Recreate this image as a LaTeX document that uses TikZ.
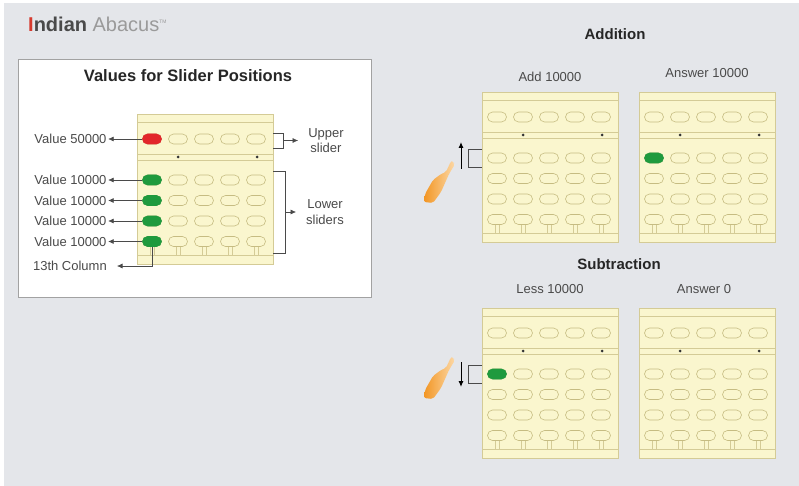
\documentclass[tikz,border=0pt]{standalone}
\usepackage{fontspec}
\setmainfont{Liberation Sans}
\usetikzlibrary{shapes.misc,arrows.meta,positioning,calc}

\definecolor{bggray}{HTML}{E4E6EA}
\definecolor{panelline}{HTML}{A2A2A2}
\definecolor{abyellow}{HTML}{FAF6CE}
\definecolor{railtan}{HTML}{D4CB96}
\definecolor{beadtan}{HTML}{C6BC82}
\definecolor{beadgreen}{HTML}{1F9A3E}
\definecolor{beadred}{HTML}{E2262B}
\definecolor{notegray}{HTML}{4A4A4A}
\definecolor{brandred}{HTML}{D63A2E}
\definecolor{brandgray}{HTML}{9A9A9A}
\definecolor{handdark}{HTML}{F29624}
\definecolor{handlight}{HTML}{FCD9A8}

\begin{document}
\begin{tikzpicture}[
    x=1pt, y=-1pt,
    >={Latex[length=5.5pt,width=5pt]},
    abframe/.style={rectangle, draw=railtan, fill=abyellow, minimum width=136pt, minimum height=150pt, inner sep=0pt},
    rail/.style={draw=railtan, line width=0.5pt},
    bead/.style={rounded rectangle, draw=beadtan, fill=abyellow, minimum width=19pt, minimum height=10pt, inner sep=0pt, line width=0.6pt},
    note/.style={font=\fontsize{13}{15.6}\selectfont, text=notegray, inner sep=1.5pt},
    head/.style={font=\fontsize{15}{18}\selectfont\bfseries, text=black!85, inner sep=0pt},
    caption/.style={font=\fontsize{13}{15.6}\selectfont, text=notegray, inner sep=0pt},
    wire/.style={draw=notegray, line width=0.6pt},
    bracket/.style={draw=notegray, line width=0.7pt},
    hand/.style={left color=handdark, right color=handlight, rounded corners=2pt},
    abacus/.pic={
        \node[abframe, anchor=north west] (-frame) at (0,0) {};
        \draw[rail] (0,8) -- (136,8) (0,40) -- (136,40) (0,46) -- (136,46) (0,141) -- (136,141);
        \fill[black!80] (41,43) circle[radius=1.5pt] (120,43) circle[radius=1.5pt];
        \foreach \cx [count=\i] in {15,41,67,93,119} {
            \draw[rail] (\cx-2,132) -- (\cx-2,141) (\cx+2,132) -- (\cx+2,141);
            \node[bead] (-u\i) at (\cx,25) {};
            \foreach \ry [count=\j] in {66,86.5,107,127.5}
                \node[bead] (-b\j\i) at (\cx,\ry) {};
        }
        % bracket ends on both sides
        \coordinate (-ut) at (136,19);
        \coordinate (-ub) at (136,34);
        \coordinate (-lt) at (136,57);
        \coordinate (-lb) at (136,139);
        \coordinate (-rt) at (0,57);
        \coordinate (-rb) at (0,75);
    }
]

\useasboundingbox (0,0) rectangle (799,486);
\fill[white] (0,0) rectangle (799,486);
\fill[bggray] (4,3) rectangle (799,486);

% Title
\node[anchor=base west, inner sep=0pt, font=\fontsize{20}{24}\selectfont] (brand) at (28,32)
    {\textcolor{brandred}{\bfseries I}\textcolor{notegray}{\bfseries ndian} \textcolor{brandgray}{Abacus}\raisebox{8pt}{\textcolor{brandgray}{\fontsize{5}{5}\selectfont TM}}};

% Values panel
\node[rectangle, draw=panelline, fill=white, anchor=north west, minimum width=353pt, minimum height=238pt, line width=0.8pt] (valbox) at (18,59) {};
\node[head, font=\fontsize{16.5}{20}\selectfont\bfseries, anchor=base] (valtitle) at (188,82) {Values for Slider Positions};

\pic (left) at (137,114) {abacus};
\node[bead, fill=beadred, draw=beadred] (red1) at (left-u1) {};
\foreach \j in {1,...,4}
    \node[bead, fill=beadgreen, draw=beadgreen] (green\j) at (left-b\j1) {};

\node[note, left=34pt of left-u1] (v50) {Value 50000};
\draw[wire, ->] (red1.west) -- (v50.east);
\foreach \j in {1,...,4} {
    \node[note, left=34pt of left-b\j1] (v10\j) {Value 10000};
    \draw[wire, ->] (green\j.west) -- (v10\j.east);
}
\node[note, anchor=east, inner xsep=10pt] (col13) at (117,266) {13th Column};
\draw[wire, ->] (left-b41.south) |- (col13.east);

\draw[bracket] (left-ut) -- ++(10,0) |- (left-ub);
\draw[bracket] (left-lt) -- ++(12,0) |- (left-lb);
\node[note, align=center, inner xsep=10pt] (upper) at ($(left-ut)!.5!(left-ub)+(53,0)$) {Upper\\slider};
\node[note, align=center, inner xsep=10pt] (lower) at ($(left-lt)!.5!(left-lb)+(52,0)$) {Lower\\sliders};
\draw[wire, ->] ($(left-ut)!.5!(left-ub)+(10,0)$) -- (upper.west);
\draw[wire, ->] ($(left-lt)!.5!(left-lb)+(12,0)$) -- (lower.west);

% Addition
\node[head, anchor=base] (addhead) at (615,40) {Addition};
\pic (add) at (482,92) {abacus};
\pic (addans) at (639,92) {abacus};
\node[bead, fill=beadgreen, draw=beadgreen] (addgreen) at (addans-b11) {};
\node[caption, anchor=base] (addcap) at (550,82) {Add 10000};
\node[caption, anchor=base] (addanscap) at (707,78) {Answer 10000};

\draw[bracket] (add-rt) -- ++(-14,0) |- (add-rb);
\draw[-{Latex[length=6pt,width=5pt]}, line width=1pt] ($(add-rt)+(-21,20)$) -- ($(add-rt)+(-21,-7)$);
\begin{scope}[shift={(453,162)}]
    \shade[hand] (0,0) -- (2,2) -- (-4,12) -- (-12,30) -- (-20,41) -- (-29,40) -- (-28,32) -- (-20,18) -- (-12,12) -- (-7,10) -- (-2,-1) -- cycle;
\end{scope}

% Subtraction
\node[head, anchor=base] (subhead) at (619,269) {Subtraction};
\pic (sub) at (482,308) {abacus};
\pic (subans) at (639,308) {abacus};
\node[bead, fill=beadgreen, draw=beadgreen] (subgreen) at (sub-b11) {};
\node[caption, anchor=base] (subcap) at (550,293) {Less 10000};
\node[caption, anchor=base] (subanscap) at (704,293) {Answer 0};

\draw[bracket] (sub-rt) -- ++(-14,0) |- (sub-rb);
\draw[-{Latex[length=6pt,width=5pt]}, line width=1pt] ($(sub-rt)+(-21,-3)$) -- ($(sub-rt)+(-21,22)$);
\begin{scope}[shift={(453,358)}]
    \shade[hand] (0,0) -- (2,2) -- (-4,12) -- (-12,30) -- (-20,41) -- (-29,40) -- (-28,32) -- (-20,18) -- (-12,12) -- (-7,10) -- (-2,-1) -- cycle;
\end{scope}

\end{tikzpicture}
\end{document}
